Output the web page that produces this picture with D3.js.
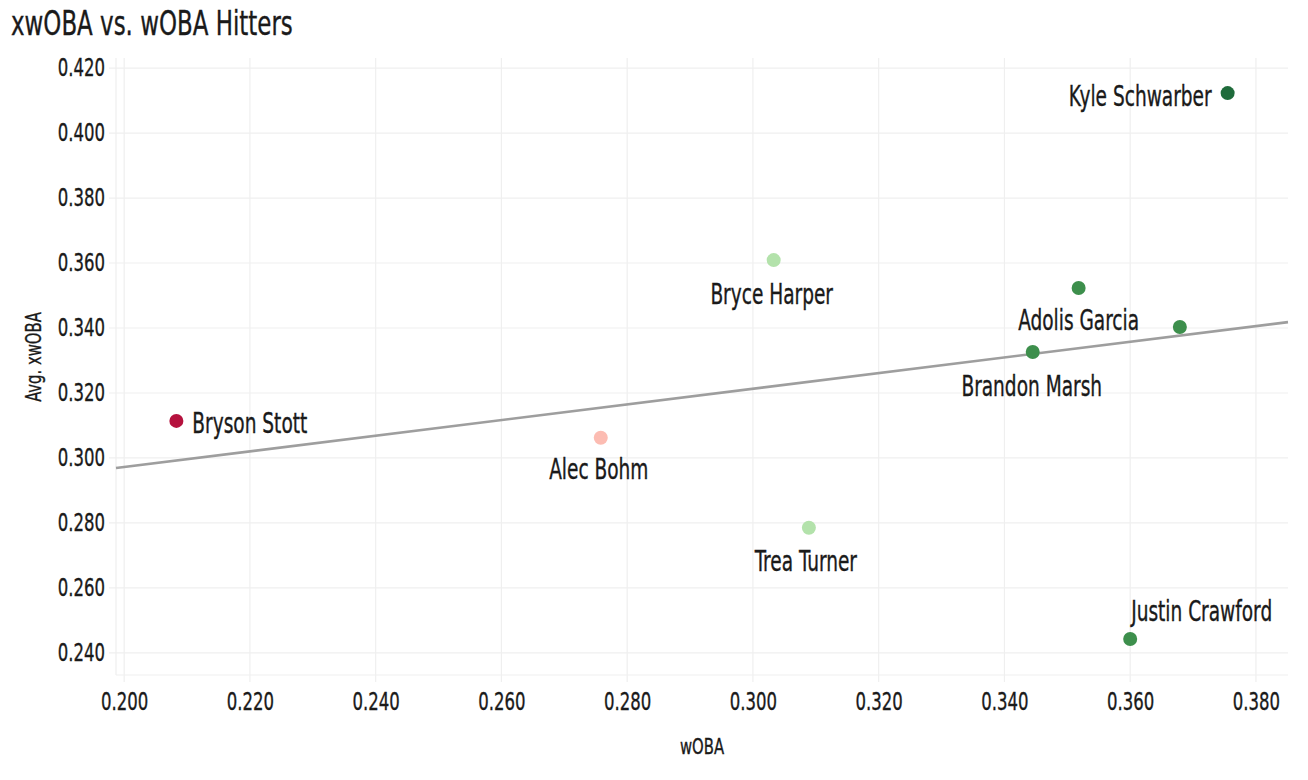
<!DOCTYPE html>
<html>
<head>
<meta charset="utf-8">
<script src="https://cdn.jsdelivr.net/npm/d3@7"></script>
<style>
  html, body { margin: 0; padding: 0; background: #fff; }
  svg text { font-family: "DejaVu Sans Condensed", "Liberation Sans Narrow", "Roboto", sans-serif; fill: #1a1a1a; stroke: #1a1a1a; stroke-width: 0.35px; }
</style>
</head>
<body>
<svg id="chart" width="1308" height="780"></svg>
<script>
// ---- data ----
const players = ["Kyle Schwarber", "Bryce Harper", "Adolis Garcia", "", "Brandon Marsh", "Bryson Stott", "Alec Bohm", "Trea Turner", "Justin Crawford"];
const woba    = [0.3755, 0.3033, 0.3518, 0.3679, 0.3445, 0.2083, 0.2758, 0.3089, 0.3600];
const xwoba   = [0.4123, 0.3609, 0.3523, 0.3403, 0.3326, 0.3114, 0.3062, 0.2785, 0.2443];
const pointColors = ["#1f6b3b", "#b3e2ab", "#3d8f4c", "#3d8f4c", "#3d8f4c", "#b5123e", "#fcbcb2", "#b3e2ab", "#3d8f4c"];
const xTicks = [0.20, 0.22, 0.24, 0.26, 0.28, 0.30, 0.32, 0.34, 0.36, 0.38];
const yTicks = [0.24, 0.26, 0.28, 0.30, 0.32, 0.34, 0.36, 0.38, 0.40, 0.42];
const trendX = [0.1987, 0.3851];
const trendY = [0.2969, 0.3418];

// ---- layout (label placement relative to point) ----
const labelPlacement = [
  {dx: -16, dy: 3, anchor: "end"},
  {dx: -2, dy: 34, anchor: "middle"},
  {dx: 0, dy: 32, anchor: "middle"},
  null,
  {dx: -1, dy: 34, anchor: "middle"},
  {dx: 16, dy: 2, anchor: "start"},
  {dx: -2, dy: 32, anchor: "middle"},
  {dx: -3, dy: 34, anchor: "middle"},
  {dx: 1, dy: -28, anchor: "start"}
];

const SX = 0.75; // horizontal condensing to mimic the narrow reference typeface
function squeeze(sel) {
  sel.each(function () {
    const t = d3.select(this);
    const tx = +t.attr("x") || 0, ty = +t.attr("y") || 0;
    const prev = t.attr("transform") || "";
    t.attr("x", 0).attr("y", 0)
     .attr("transform", `${prev} translate(${tx},${ty}) scale(${SX},1)`);
  });
}

const svg = d3.select("#chart");
const panel = {left: 116, right: 1288, top: 58, bottom: 675};

const x = d3.scaleLinear().domain([0.1987, 0.3851]).range([panel.left, panel.right]);
const y = d3.scaleLinear().domain([0.2332, 0.4231]).range([panel.bottom, panel.top]);

// gridlines
const grid = svg.append("g");
grid.selectAll(".vg").data(xTicks).join("line")
  .attr("x1", d => x(d)).attr("x2", d => x(d))
  .attr("y1", panel.top).attr("y2", panel.bottom + 7)
  .attr("stroke", "#efefef").attr("stroke-width", 1.2);
grid.selectAll(".hg").data(yTicks).join("line")
  .attr("y1", d => y(d)).attr("y2", d => y(d))
  .attr("x1", panel.left - 7).attr("x2", panel.right)
  .attr("stroke", "#efefef").attr("stroke-width", 1.2);
grid.append("line").attr("x1", panel.left).attr("x2", panel.left)
  .attr("y1", panel.top).attr("y2", panel.bottom).attr("stroke", "#efefef").attr("stroke-width", 1.2);
grid.append("line").attr("x1", panel.left).attr("x2", panel.right)
  .attr("y1", panel.bottom).attr("y2", panel.bottom).attr("stroke", "#efefef").attr("stroke-width", 1.2);

// axes (labels only)
const fmt = d3.format(".3f");
const xAxis = svg.append("g").attr("transform", `translate(0,${panel.bottom})`)
  .call(d3.axisBottom(x).tickValues(xTicks).tickFormat(fmt).tickSize(0).tickPadding(18));
xAxis.select(".domain").remove();
xAxis.selectAll("text").attr("font-size", 24.5).style("font-family", null);
squeeze(xAxis.selectAll("text"));

const yAxis = svg.append("g").attr("transform", `translate(${panel.left},0)`)
  .call(d3.axisLeft(y).tickValues(yTicks).tickFormat(fmt).tickSize(0).tickPadding(11));
yAxis.select(".domain").remove();
yAxis.selectAll("text").attr("font-size", 24.5).style("font-family", null);
squeeze(yAxis.selectAll("text"));
svg.selectAll(".tick text").attr("fill", "#1a1a1a");

// trend line
svg.append("line")
  .attr("x1", x(trendX[0])).attr("y1", y(trendY[0]))
  .attr("x2", x(trendX[1])).attr("y2", y(trendY[1]))
  .attr("stroke", "#999").attr("stroke-width", 2.6).attr("opacity", 0.95);

// points
const data = players.map((p, i) => ({name: p, w: woba[i], xw: xwoba[i], c: pointColors[i], lp: labelPlacement[i]}));
svg.append("g").selectAll("circle").data(data).join("circle")
  .attr("cx", d => x(d.w)).attr("cy", d => y(d.xw)).attr("r", 7)
  .attr("fill", d => d.c);

// labels
const labels = svg.append("g").selectAll("text").data(data.filter(d => d.lp && d.name)).join("text")
  .attr("x", d => x(d.w) + d.lp.dx).attr("y", d => y(d.xw) + d.lp.dy)
  .attr("text-anchor", d => d.lp.anchor).attr("dominant-baseline", "central")
  .attr("font-size", 27.5).text(d => d.name);
squeeze(labels);

// titles
squeeze(svg.append("text").attr("x", 11).attr("y", 35).attr("font-size", 34).text("xwOBA vs. wOBA Hitters"));
squeeze(svg.append("text").attr("x", (panel.left + panel.right) / 2).attr("y", 754)
  .attr("text-anchor", "middle").attr("font-size", 22).text("wOBA"));
squeeze(svg.append("text").attr("transform", "translate(41,357) rotate(-90)")
  .attr("text-anchor", "middle").attr("font-size", 22).text("Avg. xwOBA"));
</script>
</body>
</html>
